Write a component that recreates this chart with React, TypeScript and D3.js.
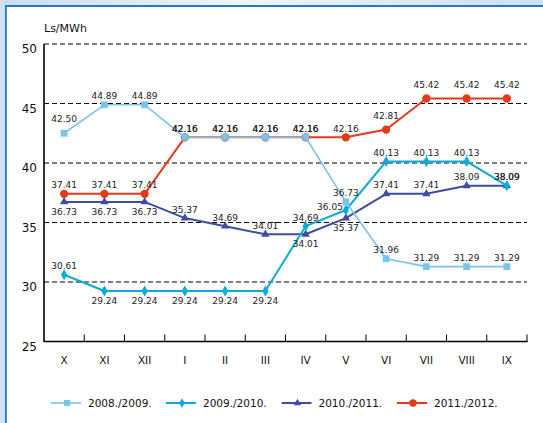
import React from 'react';
import * as d3 from 'd3';

const categories = ['X', 'XI', 'XII', 'I', 'II', 'III', 'IV', 'V', 'VI', 'VII', 'VIII', 'IX'];
const yTickValues = [25, 30, 35, 40, 45, 50];
const gridValues = [30, 35, 40, 45, 50];
const seriesNames = ['2008./2009.', '2009./2010.', '2010./2011.', '2011./2012.'];

const values2008 = [42.5, 44.89, 44.89, 42.16, 42.16, 42.16, 42.16, 36.73, 31.96, 31.29, 31.29, 31.29];
const values2009 = [30.61, 29.24, 29.24, 29.24, 29.24, 29.24, 34.69, 36.05, 40.13, 40.13, 40.13, 38.09];
const values2010 = [36.73, 36.73, 36.73, 35.37, 34.69, 34.01, 34.01, 35.37, 37.41, 37.41, 38.09, 38.09];
const values2011 = [37.41, 37.41, 37.41, 42.16, 42.16, 42.16, 42.16, 42.16, 42.81, 45.42, 45.42, 45.42];

// label placement: t = above, T = higher above, b = below, l = left
const place2008 = ['T', 't', 't', 't', 't', 't', 't', 't', 't', 't', 't', 't'];
const place2009 = ['t', 'b', 'b', 'b', 'b', 'b', 't', 'l', 't', 't', 't', 't'];
const place2010 = ['b', 'b', 'b', 't', 't', 't', 'b', 'b', 't', 't', 't', 't'];
const place2011 = ['t', 't', 't', 't', 't', 't', 't', 't', 'T', 'T', 'T', 'T'];

const W = 543;
const H = 423;
const FONT = '"DejaVu Sans", Verdana, sans-serif';

type Series = {
  name: string;
  values: number[];
  place: string[];
  color: string;
  width: number;
  symbol: d3.SymbolType;
  size: number;
};

const series: Series[] = [
  { name: seriesNames[0], values: values2008, place: place2008, color: '#7cc3ea', width: 1.6, symbol: d3.symbolSquare, size: 46 },
  { name: seriesNames[1], values: values2009, place: place2009, color: '#0aabd5', width: 2, symbol: d3.symbolDiamond, size: 34 },
  { name: seriesNames[2], values: values2010, place: place2010, color: '#3e4d9f', width: 2, symbol: d3.symbolTriangle, size: 30 },
  { name: seriesNames[3], values: values2011, place: place2011, color: '#e5391c', width: 2, symbol: d3.symbolCircle, size: 54 },
];

const drawOrder = [3, 2, 1, 0];

export default function App() {
  const left = 44;
  const right = 527;
  const top = 44;
  const bottom = 341.5;

  const x = d3.scaleBand<string>().domain(categories).range([left, right]).padding(0);
  const y = d3.scaleLinear().domain([25, 50]).range([bottom, top]);
  const cx = (c: string) => (x(c) as number) + x.bandwidth() / 2;

  const line = d3
    .line<number>()
    .x((_, i) => cx(categories[i]))
    .y((v) => y(v));

  const legendCenters = [67, 182, 297.5, 413];

  return (
    <svg width={W} height={H} style={{ position: 'absolute', left: 0, top: 0, background: '#fff' }}>
      <defs>
        <linearGradient id="topgrad" x1="0" x2="1" y1="0" y2="0">
          <stop offset="0" stopColor="#cadcf2" />
          <stop offset="0.45" stopColor="#eef4fb" />
          <stop offset="1" stopColor="#cddff4" />
        </linearGradient>
      </defs>
      <rect x={0} y={0} width={W} height={H} fill="#fff" />
      {/* frame */}
      <rect x={0} y={0} width={W} height={5} fill="url(#topgrad)" />
      <rect x={0} y={0} width={5} height={H} fill="#cfe0f5" />
      <rect x={5} y={5} width={W - 5} height={2} fill="#1f7bcc" />
      <rect x={5} y={5} width={1.8} height={H - 5} fill="#1f7bcc" />

      {/* grid lines */}
      {gridValues.map((g) => (
        <line key={g} x1={left} x2={right} y1={y(g)} y2={y(g)} stroke="#000" strokeWidth={1} strokeDasharray="5,3" />
      ))}

      {/* axes */}
      <line x1={left} x2={left} y1={top} y2={bottom + 0.5} stroke="#000" strokeWidth={1.6} />
      <line x1={left} x2={right + 0.5} y1={bottom} y2={bottom} stroke="#000" strokeWidth={1.6} />
      {categories.map((c) => (
        <line
          key={'tk' + c}
          x1={(x(c) as number) + x.bandwidth()}
          x2={(x(c) as number) + x.bandwidth()}
          y1={bottom}
          y2={bottom - 7}
          stroke="#000"
          strokeWidth={1}
        />
      ))}
      {yTickValues.map((v) => (
        <text key={'yl' + v} x={37} y={y(v) + 9} textAnchor="end" fontFamily={FONT} fontSize={12} fill="#111">
          {v}
        </text>
      ))}
      {categories.map((c) => (
        <text key={'xl' + c} x={cx(c)} y={364} textAnchor="middle" fontFamily={FONT} fontSize={10.5} fill="#111">
          {c}
        </text>
      ))}
      <text x={44} y={31.5} fontFamily={FONT} fontSize={11} fill="#111">
        Ls/MWh
      </text>

      {/* series lines + markers */}
      {drawOrder.map((si) => {
        const s = series[si];
        const sym = d3.symbol().type(s.symbol).size(s.size)();
        return (
          <g key={'s' + si}>
            <path d={line(s.values) || ''} fill="none" stroke={s.color} strokeWidth={s.width} strokeLinejoin="round" />
            {s.values.map((v, i) => (
              <path key={i} d={sym || ''} transform={`translate(${cx(categories[i])},${y(v)})`} fill={s.color} />
            ))}
          </g>
        );
      })}

      {/* data labels */}
      {drawOrder.map((si) => {
        const s = series[si];
        return (
          <g key={'lab' + si}>
            {s.values.map((v, i) => {
              const px = cx(categories[i]);
              const py = y(v);
              const p = s.place[i];
              let tx = px;
              let ty = py - 5.5;
              let anchor: 'middle' | 'end' = 'middle';
              if (p === 'T') ty = py - 11;
              else if (p === 'b') ty = py + 13;
              else if (p === 'l') {
                tx = px - 3;
                ty = py;
                anchor = 'end';
              }
              return (
                <text key={i} x={tx} y={ty} textAnchor={anchor} fontFamily={FONT} fontSize={9} fill="#222">
                  {v.toFixed(2)}
                </text>
              );
            })}
          </g>
        );
      })}

      {/* legend */}
      {series.map((s, i) => {
        const c = legendCenters[i];
        const sym = d3.symbol().type(s.symbol).size(s.size * 0.8)();
        return (
          <g key={'lg' + i}>
            <line x1={c - 16} x2={c + 14} y1={403} y2={403} stroke={s.color} strokeWidth={s.width} />
            <path d={sym || ''} transform={`translate(${c},403)`} fill={s.color} />
            <text x={c + 21} y={407} fontFamily={FONT} fontSize={10.5} fill="#111">
              {s.name}
            </text>
          </g>
        );
      })}
    </svg>
  );
}
